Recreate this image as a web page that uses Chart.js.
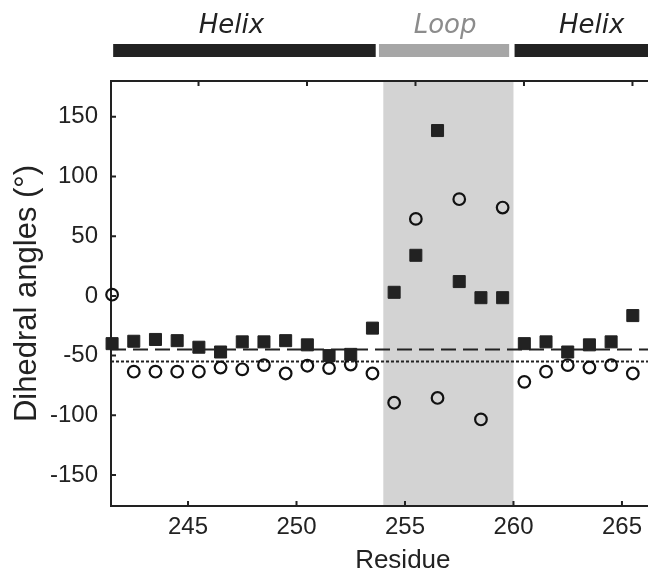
<!DOCTYPE html>
<html lang="en">
<head>
<meta charset="UTF-8">
<title>Dihedral angles</title>
<script src="https://cdn.jsdelivr.net/npm/chart.js"></script>
<style>
  body { margin: 0; background: #fff; }
  canvas { display: block; }
</style>
</head>
<body>
<canvas id="dihedralChart" width="648" height="575"></canvas>
<script>
// residue positions as they sit on the bottom axis
const residues = [241.5, 242.5, 243.5, 244.5, 245.5, 246.5, 247.5, 248.5, 249.5, 250.5,
  251.5, 252.5, 253.5, 254.5, 255.5, 256.5, 257.5, 258.5, 259.5, 260.5,
  261.5, 262.5, 263.5, 264.5, 265.5];
// filled squares
const psiAngles = [-40, -38, -36.5, -37.5, -43, -47, -38.5, -38.5, -37.5, -41,
  -50, -49, -27, 3, 34, 138.5, 12, -1.5, -1.5, -40,
  -38.5, -47, -41, -38.5, -16.5];
// open circles
const phiAngles = [1, -63.5, -63.5, -63.5, -63.5, -60, -61.5, -58, -65, -58.5,
  -60.5, -57.5, -65, -89.5, 64.5, -85.5, 81, -103.5, 74, -72,
  -63.5, -58, -60, -58, -65];

const xTicks = [245, 250, 255, 260, 265];
const yTicks = [-150, -100, -50, 0, 50, 100, 150];

const helixPsi = -45;   // dashed reference
const helixPhi = -55;   // dotted reference

const segNames = ['Helix', 'Loop', 'Helix'];
const segStart = [241.55, 253.8, 260.05];
const segEnd = [253.65, 259.8, 268];
const segLabelAt = [247.0, 256.85, 263.6];
const loopShade = [254, 260];

const xMin = 241.45, xMax = 266.2;
const yMin = -176, yMax = 180;
const topTickShift = 0.484;

const ink = '#222';

const decor = {
  id: 'decor',
  beforeDraw(chart) {
    const { ctx, chartArea: a, scales: { x } } = chart;
    const x0 = x.getPixelForValue(loopShade[0]);
    const x1 = x.getPixelForValue(loopShade[1]);
    ctx.save();
    ctx.fillStyle = '#d3d3d3';
    ctx.fillRect(x0, a.top, x1 - x0, a.bottom - a.top);
    ctx.restore();
  },
  beforeDatasetsDraw(chart) {
    const { ctx, chartArea: a, scales: { x, x2, y } } = chart;
    ctx.save();
    ctx.strokeStyle = ink;
    ctx.lineWidth = 2;
    ctx.beginPath();
    ctx.moveTo(a.left - 1, a.top);
    ctx.lineTo(a.right, a.top);
    yTicks.forEach(v => {
      const p = y.getPixelForValue(v);
      ctx.moveTo(a.left, p);
      ctx.lineTo(a.left + 5, p);
    });
    xTicks.forEach(v => {
      const p = x.getPixelForValue(v);
      ctx.moveTo(p, a.bottom);
      ctx.lineTo(p, a.bottom - 5);
    });
    xTicks.forEach(v => {
      const p = x2.getPixelForValue(v);
      ctx.moveTo(p, a.top);
      ctx.lineTo(p, a.top + 5);
    });
    ctx.stroke();
    ctx.restore();
  },
  afterDraw(chart) {
    const { ctx, scales: { x } } = chart;
    ctx.save();
    // secondary structure bars
    segNames.forEach((name, i) => {
      const x0 = x.getPixelForValue(segStart[i]);
      const x1 = x.getPixelForValue(segEnd[i]);
      const loop = name === 'Loop';
      ctx.fillStyle = loop ? '#a6a6a6' : ink;
      ctx.fillRect(x0, 44, x1 - x0, 13);
      ctx.fillStyle = loop ? '#8c8c8c' : ink;
      ctx.font = 'italic 26px "DejaVu Sans"';
      ctx.textAlign = 'center';
      ctx.textBaseline = 'alphabetic';
      ctx.fillText(name, x.getPixelForValue(segLabelAt[i]), 33);
    });
    // x title, centred under the original axis
    ctx.fillStyle = ink;
    ctx.font = '26px "Liberation Sans"';
    ctx.textAlign = 'center';
    ctx.fillText('Residue', x.getPixelForValue(254.9), 568);
    ctx.restore();
  }
};

const ctx = document.getElementById('dihedralChart').getContext('2d');
new Chart(ctx, {
  type: 'scatter',
  data: {
    datasets: [
      {
        label: 'psi',
        data: residues.map((r, i) => ({ x: r, y: psiAngles[i] })),
        pointStyle: 'rect',
        pointRadius: 8.5,
        backgroundColor: ink,
        borderColor: ink,
        borderWidth: 1,
        clip: false,
        order: 0
      },
      {
        label: 'phi',
        data: residues.map((r, i) => ({ x: r, y: phiAngles[i] })),
        pointStyle: 'circle',
        pointRadius: 5.8,
        backgroundColor: 'rgba(0,0,0,0)',
        borderColor: '#111',
        borderWidth: 2.2,
        clip: false,
        order: 0
      },
      {
        label: 'helix psi',
        data: [{ x: xMin, y: helixPsi }, { x: xMax, y: helixPsi }],
        showLine: true,
        pointRadius: 0,
        borderColor: ink,
        borderWidth: 2,
        borderDash: [15, 7],
        order: 1
      },
      {
        label: 'helix phi',
        data: [{ x: xMin, y: helixPhi }, { x: xMax, y: helixPhi }],
        showLine: true,
        pointRadius: 0,
        borderColor: ink,
        borderWidth: 2,
        borderDash: [3, 2],
        order: 1
      }
    ]
  },
  plugins: [decor],
  options: {
    responsive: false,
    animation: false,
    layout: { autoPadding: false, padding: { top: 81, right: 0, left: 0, bottom: 0 } },
    plugins: { legend: { display: false }, tooltip: { enabled: false } },
    scales: {
      x: {
        type: 'linear',
        min: xMin,
        max: xMax,
        afterBuildTicks: s => { s.ticks = xTicks.map(v => ({ value: v })); },
        afterFit: s => { s.height = 69; s.paddingLeft = 0; s.paddingRight = 0; },
        grid: { drawOnChartArea: false, drawTicks: false },
        border: { display: true, color: ink, width: 2 },
        ticks: {
          padding: 7,
          color: ink,
          font: { family: '"Liberation Sans", Arial, sans-serif', size: 24, lineHeight: 1.2 }
        }
      },
      x2: {
        type: 'linear',
        position: 'top',
        display: false,
        min: xMin - topTickShift,
        max: xMax - topTickShift
      },
      y: {
        min: yMin,
        max: yMax,
        afterBuildTicks: s => { s.ticks = yTicks.map(v => ({ value: v })); },
        afterFit: s => { s.width = 111; s.paddingTop = 0; s.paddingBottom = 0; },
        grid: { drawOnChartArea: false, drawTicks: false },
        border: { display: true, color: ink, width: 2 },
        ticks: {
          padding: 13,
          color: ink,
          font: { family: '"Liberation Sans", Arial, sans-serif', size: 24, lineHeight: 1.2 }
        },
        title: {
          display: true,
          text: 'Dihedral angles (°)',
          color: ink,
          padding: { top: 9, bottom: 4 },
          font: { family: '"Liberation Sans", Arial, sans-serif', size: 31, lineHeight: 1.2 }
        }
      }
    }
  }
});
</script>
</body>
</html>
